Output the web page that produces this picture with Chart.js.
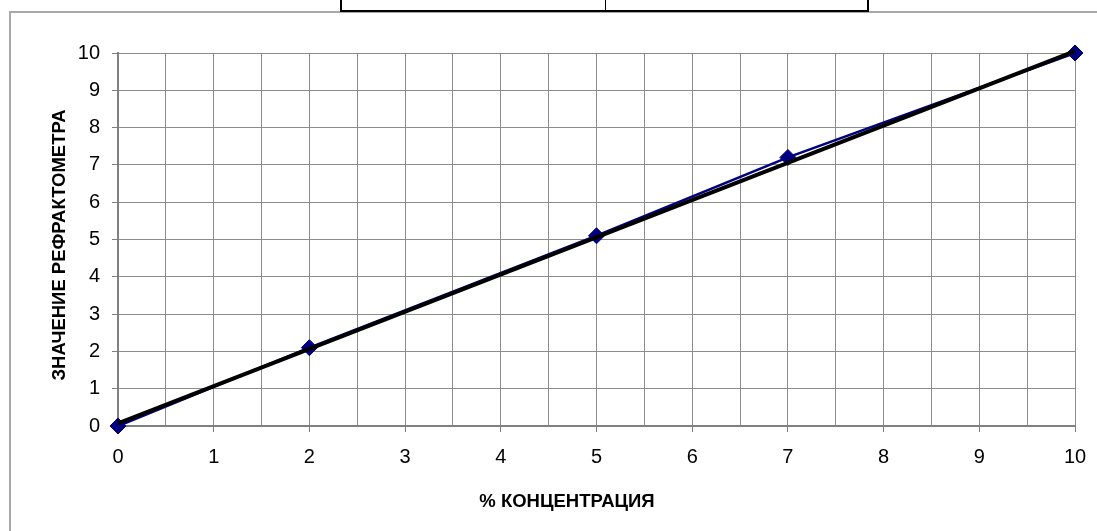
<!DOCTYPE html>
<html lang="ru">
<head>
  <meta charset="UTF-8" />
  <title>Значение рефрактометра</title>
  <script src="https://cdn.jsdelivr.net/npm/chart.js"></script>
  <style>
    body {
      margin: 0;
      background: #fff;
      width: 1097px;
      height: 531px;
      overflow: hidden;
      position: relative;
      font-family: "Liberation Sans", Arial, sans-serif;
    }

    /* рамка области диаграммы */
    .frame {
      position: absolute;
      left: 9px;
      top: 11px;
      width: 1200px;
      height: 600px;
      border: 2px solid #a8a8a8;
      box-sizing: border-box;
    }

    /* кусок таблицы над диаграммой */
    .cells {
      position: absolute;
      left: 340px;
      top: -3px;
      width: 529px;
      height: 15px;
      border: 2px solid #000;
      box-sizing: border-box;
      background: #fff;
    }
    .cells::after {
      content: "";
      position: absolute;
      left: 263px;
      top: 0;
      bottom: 0;
      border-left: 1px solid #000;
    }

    canvas {
      position: absolute;
      left: 0;
      top: 0;
    }
  </style>
</head>
<body>

  <div class="frame"></div>
  <div class="cells"></div>
  <canvas id="refChart" width="1097" height="531"></canvas>

  <script>
    // Данные
    const concentration = [0, 2, 5, 7, 10];
    const refractometer = [0, 2.1, 5.1, 7.2, 10];

    // линия тренда (концы)
    const trendX = [0, 10];
    const trendY = [0.07, 10.05];

    const xTitle = '% КОНЦЕНТРАЦИЯ';
    const yTitle = 'ЗНАЧЕНИЕ РЕФРАКТОМЕТРА';

    const gridColor = '#8c8c8c';
    const axisColor = '#808080';
    const fontFamily = '"Liberation Sans", Arial, sans-serif';

    // Подписи осей рисуем сами, чтобы поставить их как в Excel
    const axisTitles = {
      id: 'axisTitles',
      afterDraw(chart) {
        const ctx = chart.ctx;
        ctx.save();
        ctx.fillStyle = '#000';
        ctx.font = 'bold 18.5px ' + fontFamily;
        ctx.textAlign = 'center';
        ctx.textBaseline = 'middle';
        ctx.fillText(xTitle, 567, 502);
        ctx.translate(60, 245);
        ctx.rotate(-Math.PI / 2);
        ctx.fillText(yTitle, 0, 0);
        ctx.restore();
      }
    };

    const ctx = document.getElementById('refChart').getContext('2d');
    new Chart(ctx, {
      type: 'scatter',
      data: {
        datasets: [
          {
            label: 'Тренд',
            data: trendX.map((x, i) => ({ x, y: trendY[i] })),
            showLine: true,
            borderColor: '#000',
            borderWidth: 4,
            pointRadius: 0,
            clip: false,
            order: 0
          },
          {
            label: 'Значение',
            data: concentration.map((x, i) => ({ x, y: refractometer[i] })),
            showLine: true,
            borderColor: '#000080',
            borderWidth: 2.5,
            pointStyle: 'rectRot',
            pointRadius: 8,
            pointBackgroundColor: '#000080',
            pointBorderColor: '#000080',
            pointBorderWidth: 1,
            clip: false,
            order: 1
          }
        ]
      },
      options: {
        responsive: false,
        animation: false,
        devicePixelRatio: 1,
        layout: {
          padding: { left: 0, top: 53, right: 22, bottom: 0 }
        },
        plugins: {
          legend: { display: false },
          tooltip: { enabled: false }
        },
        scales: {
          x: {
            type: 'linear',
            min: 0,
            max: 10,
            afterFit(scale) {
              scale.height = 105;
              scale.paddingLeft = 0;
              scale.paddingRight = 0;
            },
            border: { color: axisColor, width: 2 },
            grid: {
              color: gridColor,
              lineWidth: 1,
              tickLength: 6,
              tickColor: c => (c.tick && c.tick.value % 1 === 0) ? axisColor : 'rgba(0,0,0,0)'
            },
            ticks: {
              stepSize: 0.5,
              autoSkip: false,
              maxRotation: 0,
              padding: 13,
              color: '#000',
              font: { family: fontFamily, size: 20 },
              callback: v => (v % 1 === 0 ? v : '')
            }
          },
          y: {
            min: 0,
            max: 10,
            afterFit(scale) {
              scale.width = 118;
              scale.paddingTop = 0;
              scale.paddingBottom = 0;
            },
            border: { color: axisColor, width: 2 },
            grid: {
              color: gridColor,
              lineWidth: 1,
              tickLength: 6,
              tickColor: axisColor
            },
            ticks: {
              stepSize: 1,
              padding: 12,
              color: '#000',
              font: { family: fontFamily, size: 20 }
            }
          }
        }
      },
      plugins: [axisTitles]
    });
  </script>

</body>
</html>
